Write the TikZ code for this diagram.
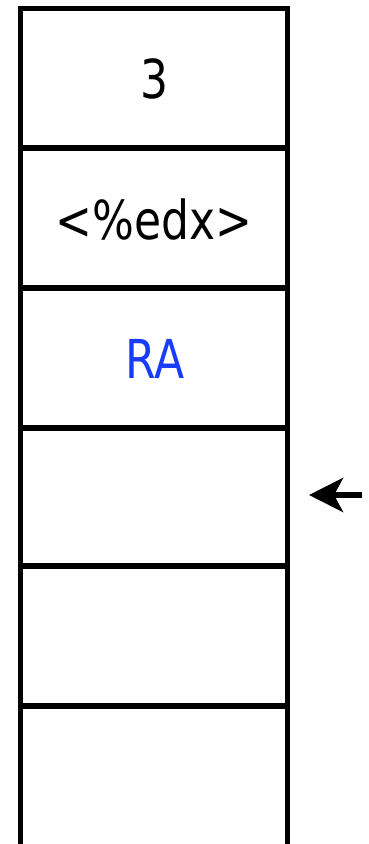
\documentclass[tikz,border=0pt]{standalone}
\usepackage{fontspec}
\usepackage{graphicx}
\setmainfont{DejaVu Sans}
\usetikzlibrary{arrows.meta}
\definecolor{rablue}{RGB}{24,60,255}
\tikzset{
  sep/.style={line width=5.5pt},
  celltext/.style={inner sep=0pt, font=\fontsize{44pt}{50pt}\selectfont},
  ptr/.style={line width=6pt, -{Stealth[length=34pt, width=34pt, inset=9pt]}}
}
\begin{document}
\begin{tikzpicture}[x=1pt, y=-1pt]
\useasboundingbox (0,0) rectangle (368,844);
% walls
\draw[sep] (18,8.5) -- (290,8.5);
\draw[sep] (20.5,6) -- (20.5,850);
\draw[sep] (287.5,6) -- (287.5,850);
\foreach \y in {148,288,428,566,706} {
  \draw[sep] (18,\y) -- (290,\y);
}
% texts
\node[celltext] (c1) at (154,79) {\scalebox{1}[1.22]{3}};
\node[celltext] (c2) at (154,219) {\scalebox{1}[1.22]{<\%edx>}};
\node[celltext, text=rablue] (c3) at (155,359) {\scalebox{1}[1.22]{RA}};
\node (c4) at (154,497) {};
\node (c5) at (154,636) {};
\node (c6) at (154,775) {};
% pointer
\coordinate (tail) at (362,495);
\coordinate (tip) at (309,495);
\draw[ptr] (tail) -- (tip);
\end{tikzpicture}
\end{document}
